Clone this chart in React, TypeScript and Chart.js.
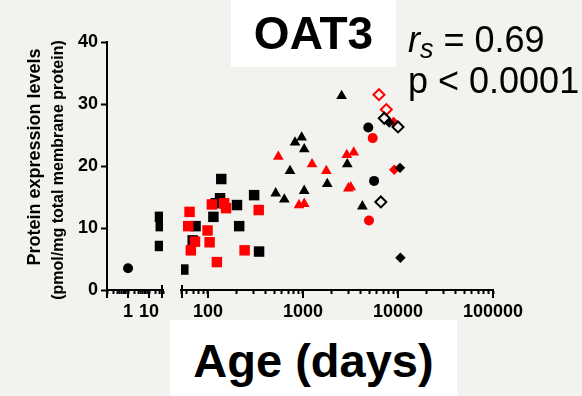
import React, { useEffect, useRef } from 'react';
import { Chart, registerables } from 'chart.js';

Chart.register(...registerables);

const BG = 'rgb(242,242,238)';
const RED = '#ff0000';
const BLACK = '#000000';
const FONT = '"Liberation Sans", Arial, Helvetica, sans-serif';

// First (short) axis segment
const earlyCircleAge = [1];
const earlyCircleProt = [3.5];
const earlySquareAge = [33, 36, 33];
const earlySquareProt = [11.8, 10.3, 7.1];

// Main axis segment
const blackSquareAge = [55, 74, 69, 114, 138, 134, 121, 202, 213, 306, 345];
const blackSquareProt = [3.3, 10.3, 8.0, 11.8, 17.9, 14.8, 14.0, 13.7, 10.3, 15.3, 6.2];
const redSquareAge = [64, 62, 73, 66, 99, 104, 124, 110, 148, 155, 243, 342];
const redSquareProt = [12.6, 10.3, 7.8, 6.4, 9.6, 7.7, 4.5, 13.8, 14.0, 13.2, 6.4, 12.9];

const blackTriangleAge = [516, 636, 2550, 968, 824, 1030, 730, 1800, 1030, 2925, 4220];
const blackTriangleProt = [15.6, 14.6, 31.3, 24.6, 23.8, 22.7, 19.2, 17.1, 16.0, 20.3, 13.5];
const redTriangleAge = [550, 1245, 1760, 908, 1030, 2890, 3420, 3000, 3180];
const redTriangleProt = [21.5, 20.3, 19.2, 13.7, 13.9, 21.8, 22.2, 16.4, 16.6];

const blackCircleAge = [4870, 5600];
const blackCircleProt = [26.2, 17.6];
const redCircleAge = [5420, 4950];
const redCircleProt = [24.5, 11.2];

const blackOpenDiamondAge = [7170, 10000, 6600];
const blackOpenDiamondProt = [27.7, 26.3, 14.2];
const redOpenDiamondAge = [6310, 7540];
const redOpenDiamondProt = [31.5, 29.1];

const blackDiamondAge = [8090, 10500, 10600];
const blackDiamondProt = [27.0, 19.7, 5.2];
const redDiamondAge = [8970, 9130];
const redDiamondProt = [27.1, 19.4];

const earlyTickLabels = [1, 10];
const mainTickLabels = [100, 1000, 10000, 100000];
const yTicks = [0, 10, 20, 30, 40];

const pts = (xs: number[], ys: number[]) => xs.map((x, i) => ({ x, y: ys[i] }));

const isPow10 = (v: number) => {
  const l = Math.log10(v);
  return Math.abs(l - Math.round(l)) < 1e-9;
};
const dropHalfSteps = (scale: any) => {
  scale.ticks = scale.ticks.filter((t: any) => {
    const v = t.value;
    const m = v / Math.pow(10, Math.floor(Math.log10(v) + 1e-9));
    return Math.abs(m - 1.5) > 1e-6;
  });
};

const majorTickPlugin = {
  id: 'majorTicks',
  afterDraw(chart: any) {
    const ctx = chart.ctx;
    ctx.save();
    ctx.strokeStyle = BLACK;
    ctx.lineWidth = 2;
    const drawLine = (x: number, y1: number, y2: number) => {
      ctx.beginPath();
      ctx.moveTo(x, y1);
      ctx.lineTo(x, y2);
      ctx.stroke();
    };
    for (const id of ['xa', 'xb']) {
      const s = chart.scales[id];
      s.ticks.forEach((t: any) => {
        if (isPow10(t.value)) {
          const x = Math.round(s.getPixelForValue(t.value));
          drawLine(x, s.top, s.top + 8);
        }
      });
    }
    const a = chart.scales.xa;
    const b = chart.scales.xb;
    drawLine(Math.round(a.right) - 1, a.top - 5, a.top + 8);
    drawLine(Math.round(b.left) + 1, b.top - 5, b.top + 8);
    ctx.restore();
  },
};

const yTitlePlugin = {
  id: 'yTitle',
  afterDraw(chart: any) {
    const ctx = chart.ctx;
    ctx.save();
    ctx.fillStyle = BLACK;
    ctx.textAlign = 'center';
    ctx.textBaseline = 'alphabetic';
    ctx.translate(40, 157);
    ctx.rotate(-Math.PI / 2);
    ctx.font = `bold 18px ${FONT}`;
    ctx.fillText('Protein expression levels', 0, 0);
    ctx.restore();
    ctx.save();
    ctx.fillStyle = BLACK;
    ctx.textAlign = 'center';
    ctx.textBaseline = 'alphabetic';
    ctx.translate(63, 170);
    ctx.rotate(-Math.PI / 2);
    ctx.font = `bold 16px ${FONT}`;
    ctx.fillText('(pmol/mg total membrane protein)', 0, 0);
    ctx.restore();
  },
};

export default function App() {
  const canvasRef = useRef<HTMLCanvasElement | null>(null);

  useEffect(() => {
    document.body.style.margin = '0';
    const canvas = canvasRef.current;
    if (!canvas) return;

    const tickFont = { family: FONT, size: 18, weight: 'bold' as const };
    const xGrid = {
      display: true,
      drawOnChartArea: false,
      drawTicks: true,
      tickLength: 4,
      tickWidth: 2,
      tickColor: BLACK,
    };
    const xBorder = { display: true, color: BLACK, width: 2 };

    const filled = (label: string, data: any[], color: string, style: string, r: number, axis: string) => ({
      label,
      data,
      xAxisID: axis,
      yAxisID: 'y',
      pointStyle: style,
      pointRadius: r,
      pointBackgroundColor: color,
      pointBorderColor: color,
      pointBorderWidth: 0,
      backgroundColor: color,
      borderColor: color,
    });
    const open = (label: string, data: any[], color: string, r: number) => ({
      label,
      data,
      xAxisID: 'xb',
      yAxisID: 'y',
      pointStyle: 'rectRot',
      pointRadius: r,
      pointBackgroundColor: 'rgba(0,0,0,0)',
      pointBorderColor: color,
      pointBorderWidth: 2,
      backgroundColor: 'rgba(0,0,0,0)',
      borderColor: color,
    });

    const chart = new Chart(canvas, {
      type: 'scatter',
      data: {
        datasets: [
          filled('early circle', pts(earlyCircleAge, earlyCircleProt), BLACK, 'circle', 5, 'xa'),
          filled('early square', pts(earlySquareAge, earlySquareProt), BLACK, 'rect', 7.4, 'xa'),
          filled('black diamond', pts(blackDiamondAge, blackDiamondProt), BLACK, 'rectRot', 5.2, 'xb'),
          open('black open diamond', pts(blackOpenDiamondAge, blackOpenDiamondProt), BLACK, 5.5),
          filled('red diamond', pts(redDiamondAge, redDiamondProt), RED, 'rectRot', 5.2, 'xb'),
          open('red open diamond', pts(redOpenDiamondAge, redOpenDiamondProt), RED, 5.5),
          filled('black circle', pts(blackCircleAge, blackCircleProt), BLACK, 'circle', 5, 'xb'),
          filled('red circle', pts(redCircleAge, redCircleProt), RED, 'circle', 5, 'xb'),
          filled('black triangle', pts(blackTriangleAge, blackTriangleProt), BLACK, 'triangle', 6.2, 'xb'),
          filled('red triangle', pts(redTriangleAge, redTriangleProt), RED, 'triangle', 6.2, 'xb'),
          filled('red square', pts(redSquareAge, redSquareProt), RED, 'rect', 7.4, 'xb'),
          filled('black square', pts(blackSquareAge, blackSquareProt), BLACK, 'rect', 7.4, 'xb'),
        ],
      },
      options: {
        animation: false,
        responsive: false,
        devicePixelRatio: 1,
        layout: { padding: { top: 42, right: 89, bottom: 66, left: 0 } },
        plugins: {
          legend: { display: false },
          tooltip: { enabled: false },
          title: { display: false },
        },
        scales: {
          xa: {
            type: 'logarithmic',
            position: 'bottom',
            stack: 'age',
            stackWeight: 56,
            min: 0.1,
            max: 46,
            border: xBorder,
            grid: xGrid,
            afterBuildTicks: dropHalfSteps,
            ticks: {
              autoSkip: false,
              maxRotation: 0,
              minRotation: 0,
              padding: 7,
              color: BLACK,
              font: tickFont,
              callback: (v: any) => {
                const n = Number(v);
                return earlyTickLabels.some((t) => Math.abs(t - n) < 1e-9) ? String(Math.round(n)) : '';
              },
            },
            afterFit: (s: any) => {
              s.height = 40;
            },
          },
          xgap: {
            type: 'linear',
            position: 'bottom',
            stack: 'age',
            stackWeight: 18,
            min: 0,
            max: 1,
            grid: { display: false },
            border: { display: false },
            ticks: { display: false },
            afterFit: (s: any) => {
              s.height = 40;
            },
          },
          xb: {
            type: 'logarithmic',
            position: 'bottom',
            stack: 'age',
            stackWeight: 312,
            min: 52,
            max: 100000,
            border: xBorder,
            grid: xGrid,
            afterBuildTicks: dropHalfSteps,
            ticks: {
              autoSkip: false,
              maxRotation: 0,
              minRotation: 0,
              padding: 7,
              color: BLACK,
              font: tickFont,
              callback: (v: any) => {
                const n = Number(v);
                return mainTickLabels.some((t) => Math.abs(t - n) < 1e-6) ? String(Math.round(n)) : '';
              },
            },
            afterFit: (s: any) => {
              s.height = 40;
            },
          },
          y: {
            type: 'linear',
            position: 'left',
            min: yTicks[0],
            max: yTicks[yTicks.length - 1],
            border: { display: true, color: BLACK, width: 2 },
            grid: {
              display: true,
              drawOnChartArea: false,
              drawTicks: true,
              tickLength: 6,
              tickWidth: 2,
              tickColor: BLACK,
            },
            ticks: {
              stepSize: 10,
              padding: 3,
              color: BLACK,
              font: tickFont,
            },
            afterFit: (s: any) => {
              s.width = 107;
            },
          },
        },
      } as any,
      plugins: [majorTickPlugin, yTitlePlugin],
    });

    return () => {
      chart.destroy();
    };
  }, []);

  return (
    <div style={{ position: 'relative', width: 582, height: 396, background: BG, overflow: 'hidden', fontFamily: FONT }}>
      <canvas ref={canvasRef} width={582} height={396} style={{ position: 'absolute', left: 0, top: 0, width: 582, height: 396 }} />
      <div style={{ position: 'absolute', left: 231, top: 0, width: 165, height: 67, background: '#ffffff' }}>
        <div style={{ position: 'absolute', left: 0, width: 165, top: 10, fontSize: 46, lineHeight: '46px', fontWeight: 'bold', textAlign: 'center', color: BLACK }}>
          OAT3
        </div>
      </div>
      <div style={{ position: 'absolute', left: 408, top: 22, fontSize: 36, lineHeight: '36px', color: BLACK, whiteSpace: 'nowrap' }}>
        <i>r</i>
        <i style={{ fontSize: 27, position: 'relative', top: 6 }}>s</i>
        {' = 0.69'}
      </div>
      <div style={{ position: 'absolute', left: 408, top: 63, fontSize: 36, lineHeight: '36px', color: BLACK, whiteSpace: 'nowrap' }}>
        {'p < 0.0001'}
      </div>
      <div style={{ position: 'absolute', left: 170, top: 320, width: 287, height: 76, background: '#ffffff' }}>
        <div style={{ position: 'absolute', left: 0, width: 287, top: 17, fontSize: 47, lineHeight: '47px', fontWeight: 'bold', textAlign: 'center', color: BLACK, whiteSpace: 'nowrap' }}>
          Age (days)
        </div>
      </div>
    </div>
  );
}
